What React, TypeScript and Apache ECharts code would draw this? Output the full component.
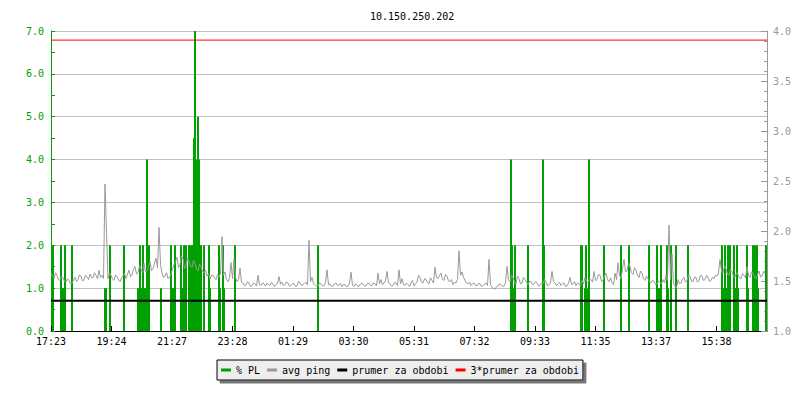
import React, { useEffect, useRef } from "react";
import * as echarts from "echarts";

const chartTitle = "10.150.250.202";
const xTickLabels = ["17:23", "19:24", "21:27", "23:28", "01:29", "03:30", "05:31", "07:32", "09:33", "11:35", "13:37", "15:38"];
const xTickStepMin = 121;
const xMaxMin = 1432;
const pingStepMin = 3;

// avg ping, one sample every 3 minutes (left axis units)
const avgPing = [
  1.35, 1.28, 1.22, 1.36, 1.30, 1.20, 1.18, 1.29, 1.24, 1.16, 1.14, 1.22, 1.17, 1.10, 1.12, 1.19, 1.25, 1.15, 1.20, 1.31,
  1.28, 1.17, 1.19, 1.30, 1.26, 1.20, 1.33, 1.25, 1.24, 1.36, 1.30, 1.22, 1.42, 1.25, 1.30, 1.22, 3.43, 2.30, 1.22, 1.35,
  1.30, 1.21, 1.18, 1.31, 1.27, 1.19, 1.15, 1.24, 1.29, 1.35, 1.22, 1.33, 1.42, 1.27, 1.30, 1.44, 1.50, 1.33, 1.36, 1.52,
  1.45, 1.35, 1.58, 1.38, 1.40, 1.52, 1.62, 1.41, 1.45, 1.58, 1.70, 1.48, 2.42, 1.55, 1.35, 1.25, 1.28, 1.36, 1.22, 1.26,
  1.32, 1.45, 1.55, 1.62, 1.72, 1.48, 1.55, 1.75, 1.68, 1.46, 1.50, 1.70, 1.62, 1.52, 1.48, 1.65, 1.58, 1.44, 1.40, 1.56,
  1.50, 1.40, 1.35, 1.42, 1.28, 1.34, 1.22, 1.30, 1.30, 1.24, 1.20, 1.32, 1.26, 1.34, 2.20, 1.30, 1.38, 1.20, 1.15, 1.25,
  1.60, 1.22, 1.68, 1.25, 1.15, 1.20, 1.47, 1.14, 1.12, 1.05, 1.08, 1.15, 1.12, 1.04, 1.06, 1.12, 1.10, 1.05, 1.30, 1.08,
  1.06, 1.12, 1.10, 1.05, 1.12, 1.08, 1.06, 1.13, 1.10, 1.04, 1.08, 1.12, 1.27, 1.09, 1.14, 1.06, 1.08, 1.15, 1.12, 1.05,
  1.06, 1.11, 1.10, 1.04, 1.05, 1.16, 1.12, 1.06, 1.08, 1.11, 1.14, 1.07, 2.12, 1.15, 1.25, 1.10, 1.08, 1.04, 1.05, 1.12,
  1.10, 1.05, 1.06, 1.13, 1.43, 1.08, 1.10, 1.04, 1.05, 1.10, 1.12, 1.06, 1.07, 1.11, 1.03, 1.09, 1.08, 1.03, 1.05, 1.12,
  1.37, 1.07, 1.04, 1.10, 1.08, 1.03, 1.08, 1.12, 1.10, 1.05, 1.05, 1.11, 1.12, 1.06, 1.06, 1.12, 1.10, 1.05, 1.35, 1.10,
  1.20, 1.08, 1.12, 1.18, 1.39, 1.12, 1.10, 1.05, 1.06, 1.13, 1.12, 1.06, 1.43, 1.10, 1.22, 1.08, 1.06, 1.12, 1.08, 1.04,
  1.12, 1.18, 1.05, 1.10, 1.15, 1.30, 1.25, 1.14, 1.12, 1.22, 1.20, 1.13, 1.10, 1.24, 1.18, 1.12, 1.49, 1.25, 1.22, 1.30,
  1.35, 1.20, 1.18, 1.32, 1.28, 1.17, 1.15, 1.20, 1.08, 1.14, 1.12, 1.20, 1.87, 1.30, 1.38, 1.25, 1.18, 1.12, 1.10, 1.14,
  1.06, 1.10, 1.12, 1.07, 1.05, 1.11, 1.10, 1.04, 1.06, 1.10, 1.12, 1.06, 1.67, 1.08, 1.02, 0.99, 0.98, 1.03, 1.05, 1.10,
  1.08, 1.04, 1.05, 1.12, 1.51, 1.20, 1.15, 1.30, 1.25, 1.14, 1.10, 1.28, 1.22, 1.10, 1.12, 1.25, 1.20, 1.14, 1.08, 1.16,
  1.15, 1.08, 1.10, 1.16, 1.12, 1.05, 1.06, 1.12, 1.10, 1.20, 1.15, 1.06, 1.08, 1.12, 1.39, 1.15, 1.12, 1.06, 1.10, 1.14,
  1.06, 1.10, 1.12, 1.04, 1.05, 1.12, 1.25, 1.08, 1.10, 1.15, 1.06, 1.12, 1.10, 1.06, 1.18, 1.10, 1.25, 1.16, 1.12, 1.22,
  1.20, 1.14, 1.39, 1.18, 1.20, 1.32, 1.30, 1.16, 1.18, 1.28, 1.35, 1.20, 1.15, 1.24, 1.12, 1.08, 1.35, 1.20, 1.59, 1.30,
  1.22, 1.45, 1.67, 1.38, 1.40, 1.58, 1.50, 1.36, 1.32, 1.48, 1.42, 1.30, 1.25, 1.40, 1.35, 1.22, 1.18, 1.28, 1.22, 1.14,
  1.12, 1.18, 1.16, 1.08, 1.10, 1.17, 1.14, 1.10, 1.20, 1.12, 1.30, 1.18, 2.47, 1.20, 1.80, 1.10, 1.05, 1.00, 1.20, 1.10,
  1.12, 1.22, 1.25, 1.14, 1.18, 1.30, 1.28, 1.16, 1.15, 1.26, 1.25, 1.14, 1.18, 1.30, 1.28, 1.18, 1.20, 1.30, 1.25, 1.16,
  1.18, 1.26, 1.22, 1.30, 1.28, 1.36, 1.67, 1.40, 1.35, 1.52, 1.45, 1.32, 1.30, 1.44, 1.38, 1.28, 1.25, 1.36, 1.32, 1.24,
  1.22, 1.34, 1.30, 1.24, 1.50, 1.30, 1.25, 1.38, 1.35, 1.26, 1.22, 1.32, 1.40, 1.26, 1.28, 1.38, 1.35,
];

// packet loss events: minute offset since start and % PL
const plMinutes = [
  4, 20, 22, 24, 26, 28, 42, 108, 110, 118, 146,
  174, 176, 178, 180, 182, 184, 186, 188, 190, 192, 194, 196,
  220, 240, 242, 244, 246, 248, 260, 262, 264, 266, 268, 270,
  276, 278, 280, 282, 284, 286, 288, 290, 292, 294, 296, 298, 300,
  306, 316, 318, 336, 338, 344, 346, 368, 534,
  920, 922, 924, 928, 954, 984, 986, 1060, 1062, 1068, 1070, 1072, 1076,
  1106, 1140, 1156, 1196, 1212, 1214, 1216, 1218, 1220, 1232, 1234, 1240, 1250, 1274,
  1342, 1344, 1346, 1348, 1350, 1352, 1354, 1358, 1366, 1368, 1370, 1372, 1374,
  1392, 1394, 1404, 1406, 1408, 1410, 1412, 1414, 1430,
];
const plValues = [
  2, 2, 1, 1, 1, 2, 2, 1, 1, 2, 2,
  1, 1, 2, 1, 1, 2, 1, 1, 1, 4, 1, 2,
  1, 2, 1, 1, 1, 2, 2, 1, 1, 2, 1, 2,
  2, 2, 1, 2, 2, 4.5, 7, 4, 3.5, 5, 4, 2, 2,
  2, 2, 1, 2, 1, 2, 1, 2, 2,
  4, 2, 1, 2, 2, 4, 2, 2, 2, 1, 2, 1, 4,
  2, 2, 2, 2, 2, 1, 1, 1, 2, 2, 1, 2, 2, 2,
  2, 1, 1, 2, 1, 1, 2, 2, 2, 1, 1, 2, 1,
  2, 1, 2, 1, 2, 1, 2, 1, 2,
];

const prumer = 1.303;
const prumer3 = 3.909;

const FONT = "DejaVu Sans Mono";
const GREEN = "#00a000";

export default function App() {
  const ref = useRef<HTMLDivElement>(null);
  useEffect(() => {
    if (!ref.current) return;
    const chart = echarts.init(ref.current, undefined, { renderer: "svg" });
    const xFmt = (v: number) => {
      const k = Math.round(v / xTickStepMin);
      if (Math.abs(v - k * xTickStepMin) < 0.5 && k < xTickLabels.length) return xTickLabels[k];
      return "";
    };
    chart.setOption({
      animation: false,
      backgroundColor: "#ffffff",
      textStyle: { fontFamily: FONT },
      title: {
        text: chartTitle,
        left: 365,
        top: 6,
        textStyle: { fontFamily: FONT, fontSize: 10, fontWeight: "normal", color: "#000" },
      },
      legend: {
        left: 217,
        top: 360,
        padding: [5, 4],
        itemGap: 7,
        itemWidth: 10,
        itemHeight: 3,
        icon: "rect",
        backgroundColor: "#eeeeee",
        borderColor: "#000",
        borderWidth: 1,
        shadowColor: "#777777",
        shadowOffsetX: 3,
        shadowOffsetY: 3,
        shadowBlur: 0,
        textStyle: { fontFamily: FONT, fontSize: 10, color: "#000" },
        data: ["% PL", "avg ping", "prumer za obdobi", "3*prumer za obdobi"],
      },
      grid: { left: 51, right: 33, top: 31, bottom: 69, containLabel: false },
      xAxis: {
        type: "value",
        min: 0,
        max: xMaxMin,
        interval: xTickStepMin,
        axisLine: { show: true, lineStyle: { color: "#000", width: 1 } },
        axisTick: { show: true, inside: true, length: 5, lineStyle: { color: "#000" } },
        axisLabel: { formatter: xFmt, color: "#000", fontSize: 10, fontFamily: FONT, margin: 5, showMaxLabel: false },
        splitLine: { show: false },
      },
      yAxis: [
        {
          type: "value",
          position: "left",
          min: 0,
          max: 7,
          interval: 1,
          axisLine: { show: true, lineStyle: { color: GREEN } },
          axisTick: { show: true, inside: true, length: 4, lineStyle: { color: GREEN } },
          minorTick: { show: true, splitNumber: 2, length: 4, lineStyle: { color: GREEN } },
          axisLabel: { formatter: (v: number) => v.toFixed(1), color: GREEN, fontSize: 10, fontFamily: FONT, margin: 7 },
          splitLine: { show: true, lineStyle: { color: "#c0c0c0", width: 1 } },
        },
        {
          type: "value",
          position: "right",
          min: 1,
          max: 4,
          interval: 0.5,
          axisLine: { show: true, lineStyle: { color: "#999" } },
          axisTick: { show: true, inside: true, length: 6, lineStyle: { color: "#999" } },
          minorTick: { show: true, splitNumber: 5, length: 3, lineStyle: { color: "#999" } },
          axisLabel: { formatter: (v: number) => v.toFixed(1), color: "#999", fontSize: 10, fontFamily: FONT, margin: 6 },
          splitLine: { show: false },
        },
      ],
      series: [
        {
          name: "% PL",
          type: "bar",
          yAxisIndex: 0,
          barWidth: 2,
          itemStyle: { color: GREEN },
          color: GREEN,
          silent: true,
          data: plMinutes.map((m, i) => [m, plValues[i]]),
        },
        {
          name: "avg ping",
          type: "line",
          yAxisIndex: 0,
          showSymbol: false,
          symbol: "none",
          color: "#999999",
          lineStyle: { color: "#999999", width: 1 },
          silent: true,
          data: avgPing.map((v, i) => [i * pingStepMin, v]),
        },
        {
          name: "prumer za obdobi",
          type: "line",
          yAxisIndex: 1,
          symbol: "none",
          color: "#000000",
          lineStyle: { color: "#000000", width: 2 },
          silent: true,
          data: [[0, prumer], [xMaxMin, prumer]],
        },
        {
          name: "3*prumer za obdobi",
          type: "line",
          yAxisIndex: 1,
          symbol: "none",
          color: "#ff0000",
          lineStyle: { color: "#ff0000", width: 1 },
          silent: true,
          data: [[0, prumer3], [xMaxMin, prumer3]],
        },
      ],
    });
    return () => chart.dispose();
  }, []);
  return <div ref={ref} style={{ position: "fixed", left: 0, top: 0, width: 800, height: 400 }} />;
}
